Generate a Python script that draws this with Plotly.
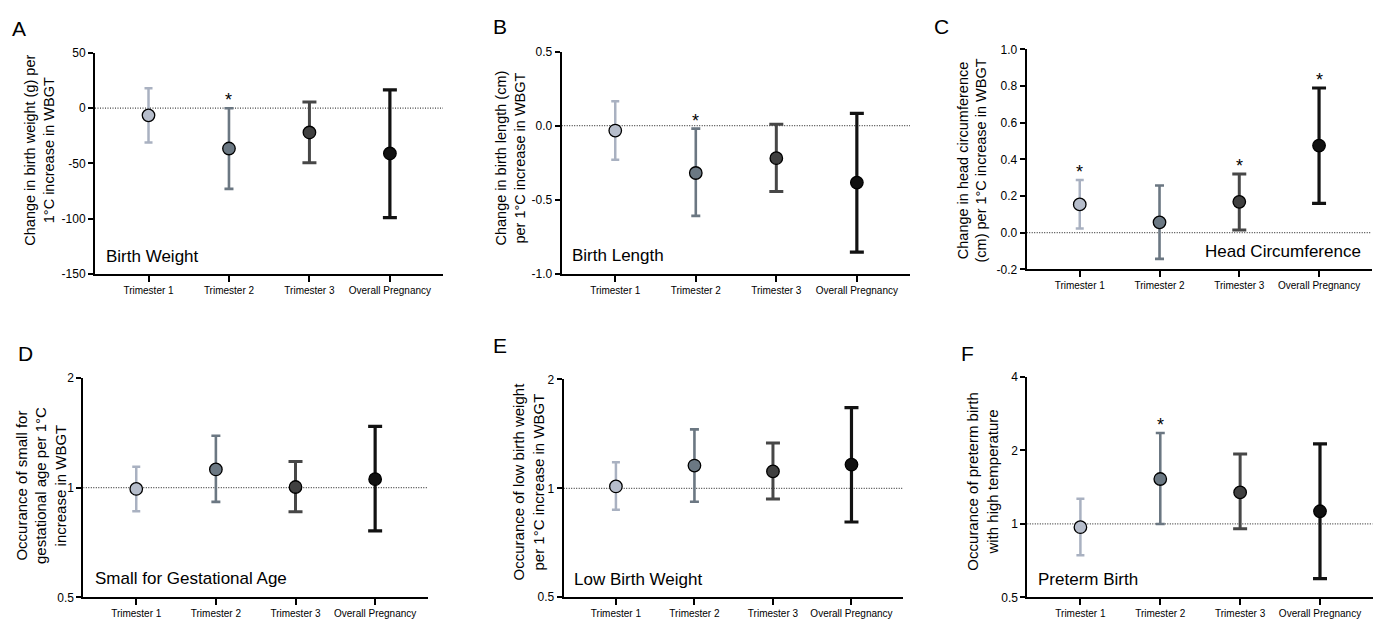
import numpy as np
import plotly.graph_objects as go

W, H = 1380, 626
FONT = "Arial, Liberation Sans, sans-serif"

# ---------------- data ----------------
categories = ["Trimester 1", "Trimester 2", "Trimester 3", "Overall Pregnancy"]

bw_est = [-6.5, -36.5, -22, -41]
bw_lo = [-31, -73, -49.5, -99]
bw_hi = [18, 0, 5.5, 16.5]
bw_sig = [False, True, False, False]

bl_est = [-0.033, -0.32, -0.22, -0.385]
bl_lo = [-0.23, -0.61, -0.445, -0.855]
bl_hi = [0.165, -0.02, 0.01, 0.083]
bl_sig = [False, True, False, False]

hc_est = [0.154, 0.056, 0.168, 0.475]
hc_lo = [0.022, -0.143, 0.015, 0.16]
hc_hi = [0.287, 0.257, 0.32, 0.789]
hc_sig = [True, False, True, True]

sga_est = [0.992, 1.122, 1.004, 1.055]
sga_lo = [0.862, 0.914, 0.859, 0.761]
sga_hi = [1.141, 1.387, 1.179, 1.473]
sga_sig = [False, False, False, False]

lbw_est = [1.012, 1.156, 1.114, 1.163]
lbw_lo = [0.872, 0.918, 0.934, 0.807]
lbw_hi = [1.18, 1.456, 1.334, 1.672]
lbw_sig = [False, False, False, False]

ptb_est = [0.97, 1.527, 1.346, 1.127]
ptb_lo = [0.745, 1.0, 0.955, 0.597]
ptb_hi = [1.267, 2.356, 1.935, 2.128]
ptb_sig = [False, True, False, False]

bw_ticks = [50, 0, -50, -100, -150]
bl_ticks = [0.5, 0.0, -0.5, -1.0]
hc_ticks = [1.0, 0.8, 0.6, 0.4, 0.2, 0.0, -0.2]
sga_ticks = [0.5, 1, 2]
lbw_ticks = [0.5, 1, 2]
ptb_ticks = [0.5, 1, 2, 4]

# ---------------- styles ----------------
bar_colors = ["#a9b1c1", "#6b7782", "#474747", "#121212"]
fill_colors = ["#b6bdcb", "#6b7883", "#404040", "#111111"]
bar_thick = [2.5, 2.6, 3.0, 3.2]
cap_half = [4, 4.5, 7, 7]

panels = [
    dict(letter="A", est=bw_est, lo=bw_lo, hi=bw_hi, sig=bw_sig, ticks=bw_ticks,
         ticktext=["50", "0", "-50", "-100", "-150"], log=False, rng=[-150, 50], ref=0,
         box=(95, 443, 47, 273),
         title="Change in birth weight (g) per<br>1°C increase in WBGT", tpos=(40, 147), tsize=14.5,
         label="Birth Weight", lpos=(104, 255), lanchor="left",
         lpos_letter=(19, 22)),
    dict(letter="B", est=bl_est, lo=bl_lo, hi=bl_hi, sig=bl_sig, ticks=bl_ticks,
         ticktext=["0.5", "0.0", "-0.5", "-1.0"], log=False, rng=[-1.0, 0.5], ref=0,
         box=(561.7, 910, 45.7, 272.7),
         title="Change in birth length (cm)<br>per 1°C increase in WBGT", tpos=(511, 155), tsize=14.5,
         label="Birth Length", lpos=(570, 254), lanchor="left",
         lpos_letter=(500, 20)),
    dict(letter="C", est=hc_est, lo=hc_lo, hi=hc_hi, sig=hc_sig, ticks=hc_ticks,
         ticktext=["1.0", "0.8", "0.6", "0.4", "0.2", "0.0", "-0.2"], log=False, rng=[-0.2, 1.0], ref=0,
         box=(1026.7, 1371.7, 43.3, 268.3),
         title="Change in head circumference<br>(cm) per 1°C increase in WBGT", tpos=(972, 157), tsize=14.5,
         label="Head Circumference", lpos=(1363, 250), lanchor="right",
         lpos_letter=(941, 20)),
    dict(letter="D", est=sga_est, lo=sga_lo, hi=sga_hi, sig=sga_sig, ticks=sga_ticks,
         ticktext=["0.5", "1", "2"], log=True, rng=[0.5, 2], ref=1,
         box=(83.3, 427.7, 379.3, 604),
         title="Occurance of small for<br>gestational age per 1°C<br>increase in WBGT", tpos=(41, 490), tsize=15,
         label="Small for Gestational Age", lpos=(92.7, 585), lanchor="left",
         lpos_letter=(25, 354)),
    dict(letter="E", est=lbw_est, lo=lbw_lo, hi=lbw_hi, sig=lbw_sig, ticks=lbw_ticks,
         ticktext=["0.5", "1", "2"], log=True, rng=[0.5, 2], ref=1,
         box=(563.7, 903.3, 381, 603.7),
         title="Occurance of low birth weight<br>per 1°C increase in WBGT", tpos=(528.3, 485), tsize=15,
         label="Low Birth Weight", lpos=(572.3, 586), lanchor="left",
         lpos_letter=(500, 346)),
    dict(letter="F", est=ptb_est, lo=ptb_lo, hi=ptb_hi, sig=ptb_sig, ticks=ptb_ticks,
         ticktext=["0.5", "1", "2", "4"], log=True, rng=[0.5, 4], ref=1,
         box=(1027.3, 1372.7, 378.3, 604),
         title="Occurance of preterm birth<br>with high temperature", tpos=(982.5, 486), tsize=15,
         label="Preterm Birth", lpos=(1036, 586), lanchor="left",
         lpos_letter=(967, 354)),
]

XR = [-0.665, 3.66]


def px_x(v):
    return v / W


def px_y(v):
    return 1 - v / H


fig = go.Figure()
layout = dict(
    width=W, height=H, margin=dict(l=0, r=0, t=0, b=0),
    paper_bgcolor="white", plot_bgcolor="white", showlegend=False,
    font=dict(family=FONT, color="black"),
)
annotations = []

for i, p in enumerate(panels):
    n = i + 1
    xa = "x" if n == 1 else f"x{n}"
    ya = "y" if n == 1 else f"y{n}"
    xl, xr, yt, yb = p["box"]

    # reference line
    fig.add_trace(go.Scatter(x=XR, y=[p["ref"], p["ref"]], mode="lines",
                             line=dict(color="#444444", width=1.2, dash="1px,1.5px"),
                             xaxis=xa, yaxis=ya, hoverinfo="skip"))

    for k in range(len(categories)):
        est, lo, hi = p["est"][k], p["lo"][k], p["hi"][k]
        fig.add_trace(go.Scatter(
            x=[k], y=[est], mode="markers", xaxis=xa, yaxis=ya,
            marker=dict(size=12.5, color=fill_colors[k], line=dict(color="black", width=1.3)),
            error_y=dict(type="data", symmetric=False, array=[hi - est], arrayminus=[est - lo],
                         color=bar_colors[k], thickness=bar_thick[k], width=cap_half[k]),
        ))
        if p["sig"][k]:
            ay = np.log10(hi) if p["log"] else hi
            annotations.append(dict(x=k, y=ay, xref=xa, yref=ya, text="*", showarrow=False,
                                     yanchor="middle", yshift=8,
                                     font=dict(size=18, family=FONT, color="black")))

    axkey = "xaxis" if n == 1 else f"xaxis{n}"
    aykey = "yaxis" if n == 1 else f"yaxis{n}"
    layout[axkey] = dict(
        domain=[px_x(xl), px_x(xr)], range=XR, anchor=ya,
        tickmode="array", tickvals=list(range(len(categories))), ticktext=categories,
        ticks="outside", ticklen=6, tickwidth=2, tickcolor="black",
        showline=True, linecolor="black", linewidth=2, showgrid=False, zeroline=False,
        tickfont=dict(size=10, family=FONT, color="black"),
    )
    yax = dict(
        domain=[px_y(yb), px_y(yt)], anchor=xa,
        tickmode="array", tickvals=p["ticks"], ticktext=p["ticktext"],
        ticks="outside", ticklen=5, tickwidth=2, tickcolor="black",
        showline=True, linecolor="black", linewidth=2, showgrid=False, zeroline=False,
        tickfont=dict(size=12, family=FONT, color="black"),
    )
    if p["log"]:
        yax["type"] = "log"
        yax["range"] = [np.log10(p["rng"][0]), np.log10(p["rng"][1])]
    else:
        yax["range"] = p["rng"]
    layout[aykey] = yax

    # axis title
    annotations.append(dict(x=px_x(p["tpos"][0]), y=px_y(p["tpos"][1]), xref="paper", yref="paper",
                            text=p["title"], textangle=-90, showarrow=False,
                            xanchor="center", yanchor="middle", align="center",
                            font=dict(size=p["tsize"], family=FONT, color="black")))
    # inner label
    annotations.append(dict(x=px_x(p["lpos"][0]), y=px_y(p["lpos"][1]), xref="paper", yref="paper",
                            text=p["label"], showarrow=False, xanchor=p["lanchor"], yanchor="middle",
                            font=dict(size=17, family=FONT, color="black")))
    # panel letter
    annotations.append(dict(x=px_x(p["lpos_letter"][0]), y=px_y(p["lpos_letter"][1]),
                            xref="paper", yref="paper", text=p["letter"], showarrow=False,
                            xanchor="center", yanchor="middle",
                            font=dict(size=21, family=FONT, color="black")))

layout["annotations"] = annotations
fig.update_layout(**layout)
css = ("document.documentElement.style.margin='0';document.documentElement.style.padding='0';"
       "document.documentElement.style.overflow='hidden';"
       "document.body.style.margin='0';document.body.style.padding='0';"
       "document.body.style.overflow='hidden';")
fig.write_html("out.html", config={"displayModeBar": False}, post_script=css)
